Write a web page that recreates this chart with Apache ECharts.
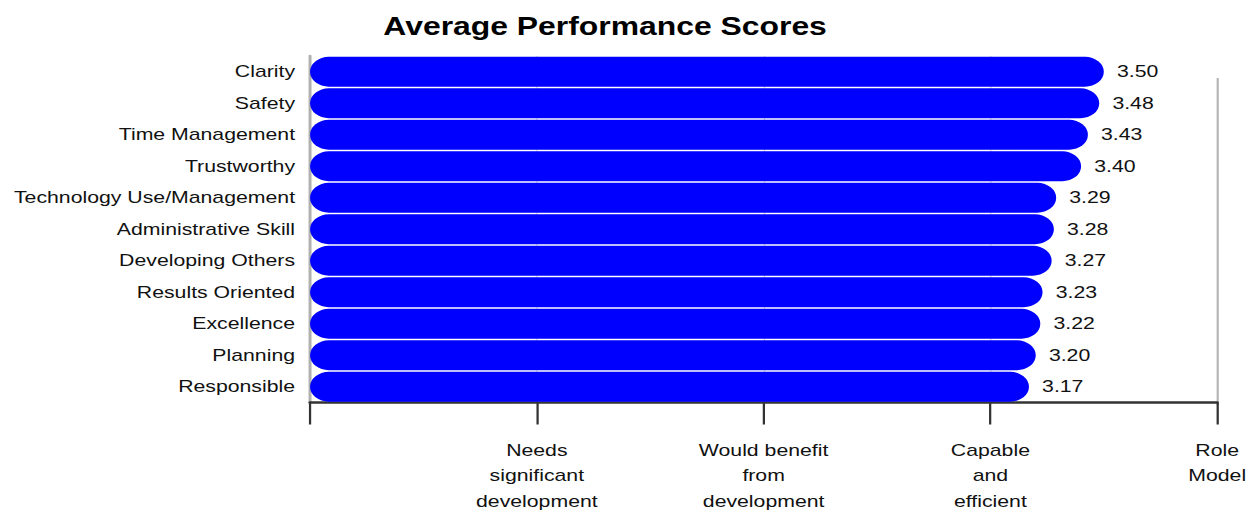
<!DOCTYPE html>
<html>
<head>
<meta charset="utf-8">
<script src="https://cdn.jsdelivr.net/npm/echarts@6/dist/echarts.min.js"></script>
<style>
  html, body { margin: 0; padding: 0; background: #fff; overflow: hidden; }
  /* the reference is a chart stretched sideways, so draw narrower and stretch it */
  #chart { width: 1003px; height: 514px; transform: scaleX(1.2502); transform-origin: 0 0; }
</style>
</head>
<body>
<div id="chart"></div>
<script>
// categories, top to bottom
const categories = [
  'Clarity', 'Safety', 'Time Management', 'Trustworthy',
  'Technology Use/Management', 'Administrative Skill', 'Developing Others',
  'Results Oriented', 'Excellence', 'Planning', 'Responsible'
];
const scores = [3.50, 3.48, 3.43, 3.40, 3.29, 3.28, 3.27, 3.23, 3.22, 3.20, 3.17];
const scaleLabels = [
  '', 'Needs\nsignificant\ndevelopment', 'Would benefit\nfrom\ndevelopment',
  'Capable\nand\nefficient', 'Role\nModel'
];

const font = 'Liberation Sans, Arial, sans-serif';
const chart = echarts.init(document.getElementById('chart'), null, { renderer: 'svg' });

chart.setOption({
  animation: false,
  title: {
    text: 'Average Performance Scores',
    left: 479,
    textAlign: 'center',
    top: 8,
    textStyle: { fontFamily: font, fontSize: 25.5, fontWeight: 'bold', color: '#000' }
  },
  grid: [
    { left: 248, right: 29.4, top: 56, bottom: 109 },
    // only used for the grey line at "Role Model", which starts lower
    { left: 248, right: 29.4, top: 78, bottom: 109 }
  ],
  xAxis: [{
    type: 'value',
    min: 0,
    max: 4,
    interval: 1,
    axisLine: { show: true, lineStyle: { color: '#333', width: 2.6 } },
    axisTick: { show: true, length: 22, lineStyle: { color: '#333', width: 1.8 } },
    axisLabel: {
      margin: 35,
      fontFamily: font,
      fontSize: 17,
      lineHeight: 25.5,
      color: '#111',
      align: 'center',
      formatter: v => scaleLabels[v] || ''
    },
    splitLine: {
      show: true,
      showMinLine: false,
      showMaxLine: false,
      lineStyle: { color: '#d4d4d4', width: 1 }
    }
  }, {
    type: 'value',
    gridIndex: 1,
    min: 0,
    max: 4,
    interval: 4,
    axisLine: { show: false },
    axisTick: { show: false },
    axisLabel: { show: false },
    splitLine: {
      show: true,
      showMinLine: false,
      lineStyle: { color: '#b4b4b4', width: 1.7 }
    }
  }],
  yAxis: [{
    type: 'category',
    data: categories,
    inverse: true,
    axisLine: { show: true, lineStyle: { color: '#b0b0b0', width: 2.4 } },
    axisTick: { show: false },
    axisLabel: {
      margin: 12,
      fontFamily: font,
      fontSize: 17,
      color: '#111'
    }
  }, {
    type: 'value',
    gridIndex: 1,
    min: 0,
    max: 1,
    show: false
  }],
  series: [{
    type: 'bar',
    data: scores,
    barWidth: 30,
    itemStyle: { color: '#0000ff', borderRadius: 15 },
    label: {
      show: true,
      position: 'right',
      distance: 10.5,
      fontFamily: font,
      fontSize: 17,
      color: '#111',
      formatter: p => p.value.toFixed(2)
    }
  }]
});
</script>
</body>
</html>
